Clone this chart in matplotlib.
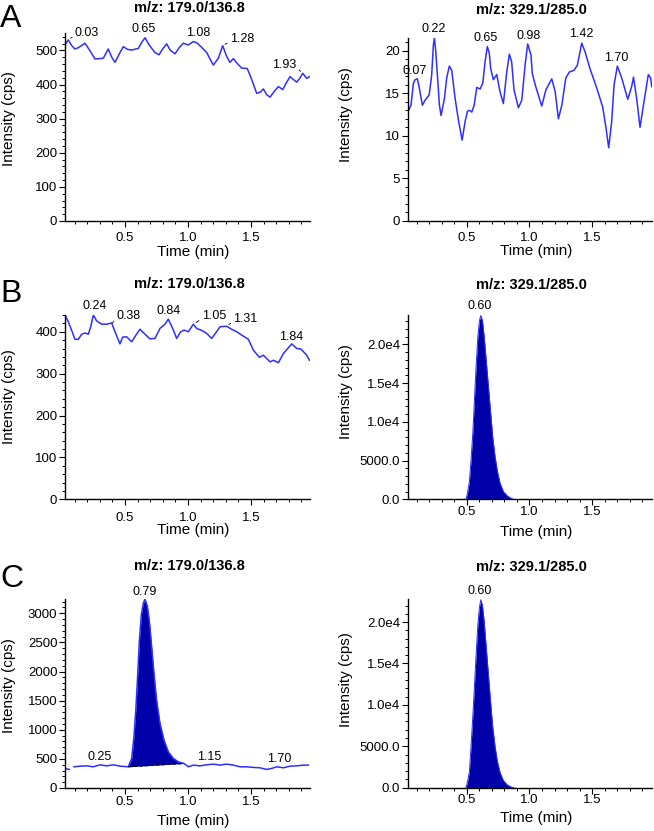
import matplotlib
matplotlib.use("Agg")
import matplotlib.pyplot as plt
import numpy as np
from matplotlib.ticker import MultipleLocator, FuncFormatter

plt.rcParams["font.family"] = ["Liberation Sans", "DejaVu Sans"]

W, H = 654, 831
LINE = "#2f2fff"
FILL = "#0000a8"

# ---- data (time in min, intensity in cps) ----
a1_t = [0.024, 0.05, 0.075, 0.103, 0.13, 0.183, 0.22, 0.262, 0.30, 0.328, 0.367, 0.395, 0.421,
        0.455, 0.487, 0.52, 0.553, 0.606, 0.635, 0.659, 0.685, 0.712, 0.740, 0.770, 0.80, 0.831,
        0.86, 0.897, 0.93, 0.963, 1.003, 1.042, 1.07, 1.10, 1.148, 1.175, 1.201, 1.241, 1.275,
        1.307, 1.333, 1.360, 1.39, 1.426, 1.47, 1.50, 1.545, 1.575, 1.598, 1.625, 1.651, 1.685,
        1.717, 1.752, 1.78, 1.810, 1.835, 1.863, 1.890, 1.910, 1.942, 1.968]
a1_v = [516, 531, 515, 504, 508, 521, 500, 475, 476, 477, 504, 480, 465,
        490, 511, 503, 501, 506, 525, 537, 520, 506, 493, 487, 505, 519,
        500, 490, 508, 521, 516, 526, 522, 512, 494, 475, 457, 477, 514,
        482, 465, 476, 462, 448, 447, 420, 374, 378, 387, 370, 363, 380,
        394, 385, 405, 423, 415, 407, 420, 433, 418, 424]

a2_t = [0.029, 0.036, 0.042, 0.055, 0.075, 0.088, 0.106, 0.122, 0.146, 0.168, 0.20, 0.22, 0.234,
        0.242, 0.253, 0.266, 0.282, 0.295, 0.322, 0.34, 0.361, 0.38, 0.407, 0.433, 0.463, 0.487,
        0.506, 0.522, 0.54, 0.559, 0.58, 0.606, 0.628, 0.646, 0.664, 0.68, 0.691, 0.712, 0.739,
        0.765, 0.792, 0.819, 0.84, 0.858, 0.877, 0.912, 0.939, 0.965, 0.986, 1.012, 1.023, 1.05,
        1.098, 1.131, 1.178, 1.205, 1.231, 1.258, 1.29, 1.318, 1.355, 1.382, 1.417, 1.443, 1.483,
        1.537, 1.584, 1.611, 1.632, 1.656, 1.675, 1.701, 1.736, 1.784, 1.815, 1.83, 1.855, 1.882,
        1.909, 1.948, 1.967, 1.975]
a2_v = [15.2, 13.0, 13.2, 13.6, 16.2, 16.6, 16.7, 15.6, 13.6, 14.2, 14.8, 17.1, 20.7,
        21.5, 19.9, 17.1, 13.6, 12.4, 14.4, 16.8, 18.2, 17.7, 14.4, 11.9, 9.5, 11.7,
        12.9, 13.0, 12.8, 13.6, 15.7, 15.5, 16.2, 18.7, 20.5, 19.7, 17.9, 16.6, 17.2,
        15.2, 13.8, 17.5, 19.6, 18.7, 15.4, 13.3, 14.2, 18.3, 20.8, 19.5, 17.3, 15.8,
        13.5, 15.4, 16.7, 15.2, 12.0, 13.6, 16.8, 17.5, 17.7, 18.3, 20.9, 19.9, 17.9,
        15.6, 13.4, 10.9, 8.6, 11.7, 16.0, 18.2, 16.8, 14.3, 15.8, 16.9, 14.4, 11.0,
        13.6, 17.2, 16.8, 15.8]

b1_t = [0.024, 0.05, 0.076, 0.103, 0.13, 0.156, 0.183, 0.209, 0.228, 0.249, 0.275, 0.315, 0.355,
        0.394, 0.421, 0.460, 0.481, 0.513, 0.553, 0.587, 0.619, 0.659, 0.698, 0.738, 0.778,
        0.817, 0.844, 0.884, 0.910, 0.942, 0.968, 1.003, 1.042, 1.069, 1.117, 1.148, 1.188,
        1.222, 1.254, 1.307, 1.346, 1.386, 1.426, 1.479, 1.519, 1.566, 1.598, 1.651, 1.677,
        1.717, 1.757, 1.823, 1.863, 1.895, 1.942, 1.963]
b1_v = [440, 424, 404, 382, 382, 394, 397, 394, 412, 440, 426, 418, 418,
        421, 400, 371, 387, 388, 376, 392, 406, 394, 383, 384, 408,
        418, 430, 404, 384, 400, 404, 400, 418, 408, 402, 396, 384,
        398, 412, 413, 406, 400, 392, 382, 356, 339, 344, 328, 332,
        326, 348, 371, 360, 359, 344, 332]

peak_t = [0.494, 0.506, 0.521, 0.534, 0.548, 0.561, 0.575, 0.588, 0.601, 0.612, 0.625, 0.638,
          0.654, 0.673, 0.691, 0.707, 0.726, 0.745, 0.766, 0.793, 0.825, 0.859, 0.875]
b2_v = [0, 850, 2270, 5060, 8500, 12790, 17300, 20940, 23090, 23740, 23090, 21160,
        18160, 14500, 11070, 8060, 5490, 3560, 2060, 980, 425, 90, 0]
c2_v = [0, 720, 1930, 4940, 8560, 12170, 16190, 19600, 21810, 22700, 22020, 20210,
        17200, 13580, 10170, 7350, 4940, 3130, 1810, 840, 330, 60, 0]

c1_t = [0.024, 0.058, 0.075, 0.095, 0.143, 0.196, 0.249, 0.302, 0.355, 0.407, 0.460, 0.526,
        0.553, 0.571, 0.587, 0.601, 0.614, 0.630, 0.646, 0.659, 0.677, 0.693, 0.712, 0.730,
        0.751, 0.778, 0.810, 0.844, 0.884, 0.923, 0.968, 1.003, 1.042, 1.095, 1.148, 1.201,
        1.254, 1.307, 1.360, 1.413, 1.466, 1.519, 1.571, 1.624, 1.664, 1.704, 1.757, 1.810,
        1.863, 1.915, 1.955]
c1_v = [336, 319, np.nan, 364, 375, 380, 364, 398, 380, 398, 375, 364,
        507, 876, 1388, 1958, 2527, 2983, 3181, 3239, 3125, 2869, 2413, 1958,
        1503, 1104, 820, 620, 507, 449, 421, 364, 393, 380, 398, 410,
        393, 410, 393, 364, 364, 353, 347, 319, 336, 364, 347, 375,
        380, 393, 393]
c1_base_t = [0.526, 0.968]
c1_base_v = [364, 421]

# peak labels: text, x, y, leader target (or None), alignment
a1_labels = [("0.03", 0.103, 551, (0.05, 531), "left"),
             ("0.65", 0.645, 562, None, "center"),
             ("1.08", 1.082, 551, None, "center"),
             ("1.28", 1.333, 533, (1.275, 514), "left"),
             ("1.93", 1.762, 457, (1.91, 433), "center")]
a2_labels = [("0.07", 0.088, 17.65, None, "center"),
             ("0.22", 0.239, 22.5, None, "center"),
             ("0.65", 0.654, 21.45, None, "center"),
             ("0.98", 0.991, 21.7, None, "center"),
             ("1.42", 1.417, 22.0, None, "center"),
             ("1.70", 1.696, 19.1, None, "center")]
b1_labels = [("0.24", 0.256, 461, None, "center"),
             ("0.38", 0.434, 437, (0.40, 421), "left"),
             ("0.84", 0.844, 449, None, "center"),
             ("1.05", 1.109, 437, (1.045, 418), "left"),
             ("1.31", 1.36, 431, (1.307, 413), "left"),
             ("1.84", 1.817, 388, None, "center")]
b2_labels = [("0.60", 0.606, 24900, None, "center")]
c1_labels = [("0.79", 0.659, 3360, None, "center"),
             ("0.25", 0.296, 524, None, "center"),
             ("1.15", 1.169, 524, None, "center"),
             ("1.70", 1.725, 490, None, "center")]
c2_labels = [("0.60", 0.606, 23750, None, "center")]

title_left = "m/z: 179.0/136.8"
title_right = "m/z: 329.1/285.0"
xtick_vals = [0.5, 1.0, 1.5]


def sci_label(v, pos):
    if v == 0:
        return "0.0"
    if v < 1e4:
        return "%.1f" % v
    return "%.1fe4" % (v / 1e4)


def int_label(v, pos):
    return "%d" % v


def make_axes(fig, box, xlim, ylim, ymajor, yminor, fmt, xpad):
    """box is (left, top, right, bottom) in pixels from top-left"""
    left, top, right, bottom = box
    ax = fig.add_axes([left / W, 1 - bottom / H, (right - left) / W, (bottom - top) / H])
    ax.set_xlim(*xlim)
    ax.set_ylim(*ylim)
    for s in ["top", "right"]:
        ax.spines[s].set_visible(False)
    for s in ["left", "bottom"]:
        ax.spines[s].set_linewidth(1.0)
    ax.set_xticks(xtick_vals)
    ax.set_xticklabels(["%.1f" % v for v in xtick_vals])
    ax.xaxis.set_minor_locator(MultipleLocator(0.1))
    ax.yaxis.set_major_locator(MultipleLocator(ymajor))
    ax.yaxis.set_minor_locator(MultipleLocator(yminor))
    ax.yaxis.set_major_formatter(FuncFormatter(fmt))
    ax.tick_params(which="major", direction="out", length=4, width=0.8, labelsize=9.5, pad=1.5)
    ax.tick_params(which="minor", direction="out", length=2.2, width=0.7)
    ax.tick_params(axis="x", which="major", pad=xpad)
    return ax


def add_labels(ax, labels):
    for txt, x, y, peak, ha in labels:
        if peak is None:
            ax.text(x, y, txt, ha=ha, va="center", fontsize=9)
        else:
            rel = (0.0, 0.3) if ha == "left" else (1.0, 0.3)
            ax.annotate(txt, xy=peak, xytext=(x, y), ha=ha, va="center", fontsize=9,
                        annotation_clip=False,
                        arrowprops=dict(arrowstyle="-", lw=0.6, color="black",
                                        relpos=rel, shrinkA=0, shrinkB=2))


fig = plt.figure(figsize=(W / 100, H / 100), dpi=100)

left_x = (65, 310)
right_x = (407.7, 651.7)
xlim_l = (0.024, 1.968)
xlim_r = (0.029, 1.975)

# row A
ax = make_axes(fig, (left_x[0], 33, left_x[1], 221), xlim_l, (0, 551), 100, 20, int_label, 4.0)
ax.plot(a1_t, a1_v, color=LINE, lw=1.1)
add_labels(ax, a1_labels)

ax = make_axes(fig, (right_x[0], 38, right_x[1], 221), xlim_r, (0, 21.5), 5, 1, int_label, 4.0)
ax.plot(a2_t, a2_v, color=LINE, lw=1.1)
add_labels(ax, a2_labels)

# row B
ax = make_axes(fig, (left_x[0], 315, left_x[1], 499.3), xlim_l, (0, 440), 100, 20, int_label, 5.0)
ax.plot(b1_t, b1_v, color=LINE, lw=1.1)
add_labels(ax, b1_labels)

ax = make_axes(fig, (right_x[0], 315, right_x[1], 499.3), xlim_r, (0, 23800), 5000, 1000, sci_label, 1)
ax.fill_between(peak_t, b2_v, 0, color=FILL, lw=0)
ax.plot(peak_t, b2_v, color=LINE, lw=0.7)
add_labels(ax, b2_labels)

# row C
ax = make_axes(fig, (left_x[0], 599.3, left_x[1], 788), xlim_l, (0, 3240), 500, 100, int_label, 2)
ct = np.array(c1_t)
cv = np.array(c1_v)
sel = (ct >= c1_base_t[0]) & (ct <= c1_base_t[1])
base = np.interp(ct[sel], c1_base_t, c1_base_v)
ax.fill_between(ct[sel], cv[sel], base, color=FILL, lw=0)
ax.plot(ct, cv, color=LINE, lw=1.1)
ax.plot(c1_base_t, c1_base_v, color="black", lw=0.8, ls=(0, (3, 2)))
add_labels(ax, c1_labels)

ax = make_axes(fig, (right_x[0], 599.3, right_x[1], 787.7), xlim_r, (0, 22750), 5000, 1000, sci_label, 0.5)
ax.fill_between(peak_t, c2_v, 0, color=FILL, lw=0)
ax.plot(peak_t, c2_v, color=LINE, lw=0.7)
add_labels(ax, c2_labels)


# titles, axis labels and panel letters placed in pixel positions
def ftext(x, y, s, **kw):
    fig.text(x / W, 1 - y / H, s, **kw)


for yt_l, yt_r in [(8.5, 10), (284, 285), (566, 566.7)]:
    ftext(189, yt_l, title_left, ha="center", va="center", fontsize=10.5, fontweight="bold")
    ftext(531, yt_r, title_right, ha="center", va="center", fontsize=10.5, fontweight="bold")

for yl, yr in [(252, 251), (530, 532), (821, 818)]:
    ftext(193, yl, "Time (min)", ha="center", va="center", fontsize=11)
    ftext(536, yr, "Time (min)", ha="center", va="center", fontsize=11)

for yl, yr in [(119, 115), (397, 392), (686, 680)]:
    ftext(9, yl, "Intensity (cps)", ha="center", va="center", rotation=90, fontsize=11)
    ftext(346, yr, "Intensity (cps)", ha="center", va="center", rotation=90, fontsize=11)

for letter, yb in [("A", 27), ("B", 302), ("C", 587)]:
    ftext(0, yb, letter, ha="left", va="baseline", fontsize=23)

fig.savefig("out.png", dpi=100)
